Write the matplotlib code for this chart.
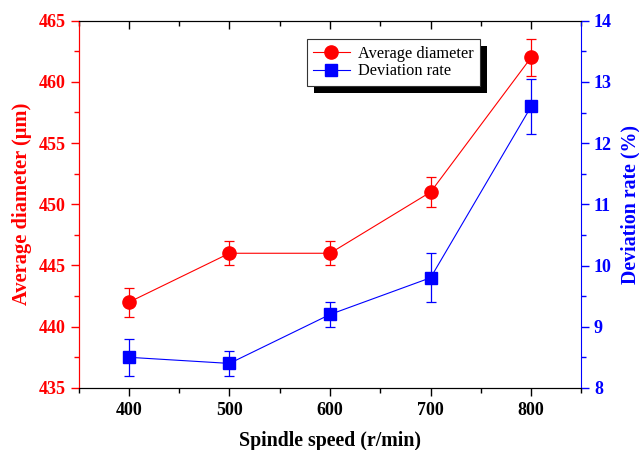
import matplotlib
matplotlib.use('Agg')
import matplotlib.pyplot as plt
from matplotlib.ticker import MultipleLocator
from matplotlib.lines import Line2D, TICKDOWN
import matplotlib.patheffects as pe

plt.rcParams['font.family'] = ['Liberation Serif', 'DejaVu Serif']

# data
speed = [400, 500, 600, 700, 800]
avg_diam = [442, 446, 446, 451, 462]
avg_diam_err = [1.2, 1.0, 1.0, 1.2, 1.5]
dev_rate = [8.5, 8.4, 9.2, 9.8, 12.6]
dev_rate_err = [0.3, 0.2, 0.2, 0.4, 0.45]

RED = '#ff0000'
BLUE = '#0000ff'

fig = plt.figure(figsize=(6.39, 4.50), dpi=100)
ax = fig.add_axes([0.123, 0.138, 0.787, 0.816])
ax2 = ax.twinx()

ax.errorbar(speed, avg_diam, yerr=avg_diam_err, color=RED, marker='o', ms=9.5,
            lw=0.8, elinewidth=0.9, capsize=3.5, capthick=0.9)
ax2.errorbar(speed, dev_rate, yerr=dev_rate_err, color=BLUE, marker='s', ms=8,
             lw=0.8, elinewidth=0.9, capsize=3.5, capthick=0.9)

ax.set_xlim(350, 850)
ax.set_ylim(435, 465)
ax2.set_ylim(8, 14)
ax.xaxis.set_major_locator(MultipleLocator(100))
ax.xaxis.set_minor_locator(MultipleLocator(50))
ax.yaxis.set_major_locator(MultipleLocator(5))
ax.yaxis.set_minor_locator(MultipleLocator(2.5))
ax2.yaxis.set_major_locator(MultipleLocator(1))
ax2.yaxis.set_minor_locator(MultipleLocator(0.5))

TS = 13
ax.tick_params(axis='x', which='major', direction='out', length=6, width=1, top=True,
               labelsize=TS, pad=4)
ax.tick_params(axis='x', which='minor', direction='out', length=3.5, width=1, top=True)
ax.tick_params(axis='y', which='major', direction='out', length=6, width=1, colors=RED,
               labelsize=TS, pad=3)
ax.tick_params(axis='y', which='minor', direction='out', length=3.5, width=1, colors=RED)
ax2.tick_params(axis='y', which='major', direction='out', length=6, width=1, colors=BLUE,
                labelsize=TS, pad=3)
ax2.tick_params(axis='y', which='minor', direction='out', length=3.5, width=1, colors=BLUE)
for lab in ax.get_yticklabels() + ax.get_xticklabels() + ax2.get_yticklabels():
    lab.set_fontweight('bold')

# top ticks point inward
for t in ax.xaxis.get_major_ticks() + ax.xaxis.get_minor_ticks():
    t.tick2line.set_marker(TICKDOWN)

ax.spines['left'].set_color(RED)
ax2.spines['left'].set_color(RED)
ax2.spines['right'].set_color(BLUE)
ax.spines['right'].set_visible(False)

ax.set_xlabel('Spindle speed (r/min)', fontsize=14.3, fontweight='bold', labelpad=9)
ax.set_ylabel('Average diameter (\u03bcm)', fontsize=14.8, fontweight='bold', color=RED, labelpad=5)
ax2.set_ylabel('Deviation rate (%)', fontsize=14.3, fontweight='bold', color=BLUE, labelpad=6)

h1 = Line2D([], [], color=RED, marker='o', ms=9.5, lw=0.8)
h2 = Line2D([], [], color=BLUE, marker='s', ms=8, lw=0.8)
leg = ax.legend([h1, h2], ['Average diameter', 'Deviation rate'], loc='upper left',
                bbox_to_anchor=(0.454, 0.95), fontsize=11.8, frameon=True, fancybox=False,
                framealpha=1, handlelength=2.2, borderpad=0.4, labelspacing=0.1,
                handletextpad=0.5, borderaxespad=0)
frame = leg.get_frame()
frame.set_edgecolor('#333333')
frame.set_linewidth(0.8)
frame.set_path_effects([pe.SimplePatchShadow(offset=(5, -5), shadow_rgbFace='black', alpha=1),
                        pe.Normal()])

fig.savefig('out.png', dpi=100)
